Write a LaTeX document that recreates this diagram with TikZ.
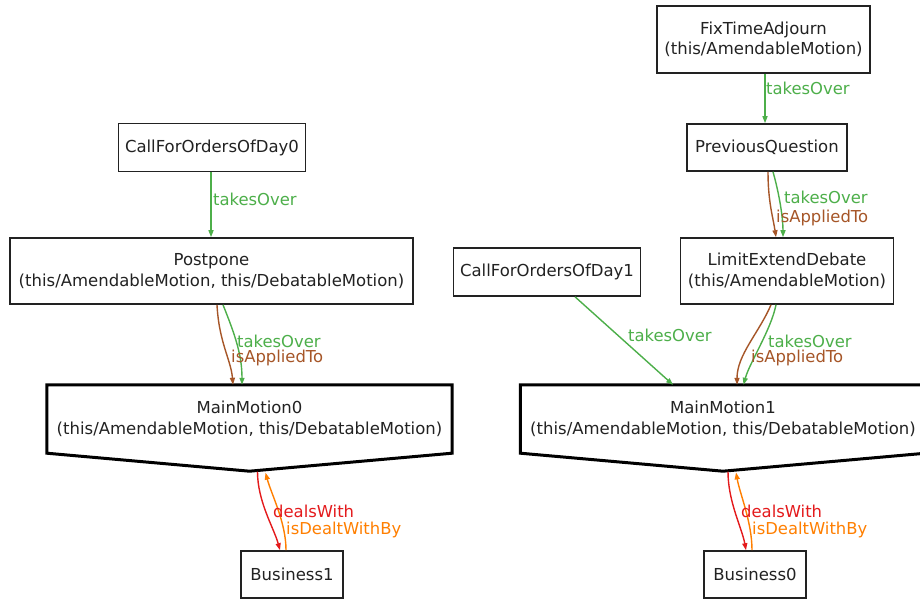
\documentclass[tikz,border=0pt]{standalone}
\usepackage{fontspec}
\setmainfont{DejaVu Sans}
\usetikzlibrary{arrows.meta,calc}
\definecolor{cGreen}{HTML}{4DAF4A}
\definecolor{cBrown}{HTML}{A65628}
\definecolor{cRed}{HTML}{E41A1C}
\definecolor{cOrange}{HTML}{FF7F00}
\definecolor{cInk}{HTML}{222222}
\tikzset{
  box/.style={draw=cInk, line width=1.6pt, rectangle, inner sep=0pt, align=center,
    text=cInk, font=\fontsize{16.5}{20.5}\selectfont},
  motion/.style={rectangle, inner sep=0pt, align=center, minimum width=405pt, minimum height=68pt,
    text=cInk, font=\fontsize{16.5}{20.5}\selectfont},
  motionline/.style={draw=black, line width=3pt, line join=miter},
  edge/.style={line width=1.4pt, -{Triangle[length=7pt,width=5pt]}},
  gEdge/.style={edge, cGreen},
  bEdge/.style={edge, cBrown},
  rEdge/.style={edge, cRed},
  oEdge/.style={edge, cOrange},
  lbl/.style={anchor=west, inner sep=0pt, font=\fontsize{16.4}{19}\selectfont},
}
\begin{document}
\begin{tikzpicture}[x=1pt,y=-1pt]
\useasboundingbox[fill=white] (0,0) rectangle (920,601);
\begin{scope}
\clip (0,0) rectangle (920,601);

% plain boxes
\node[box, minimum width=213pt, minimum height=67pt] (fta) at (763.5,39.5) {FixTimeAdjourn\\(this/AmendableMotion)};
\node[box, minimum width=160pt, minimum height=47pt] (pq) at (767,147.5) {PreviousQuestion};
\node[box, minimum width=187pt, minimum height=48pt] (cfo0) at (212,147.5) {CallForOrdersOfDay0};
\node[box, minimum width=403pt, minimum height=66pt] (pp) at (211.5,271) {Postpone\\(this/AmendableMotion, this/DebatableMotion)};
\node[box, minimum width=187pt, minimum height=48pt] (cfo1) at (547,272) {CallForOrdersOfDay1};
\node[box, minimum width=213pt, minimum height=66pt] (led) at (787,271) {LimitExtendDebate\\(this/AmendableMotion)};
\node[box, minimum width=102pt, minimum height=47pt] (bz1) at (292,574.5) {Business1};
\node[box, minimum width=102pt, minimum height=47pt] (bz0) at (755,574.5) {Business0};

% main motions: pointed pentagon outlines
\node[motion] (mm0) at (249.5,419) {MainMotion0\\(this/AmendableMotion, this/DebatableMotion)};
\coordinate (mm0tip) at ($(mm0.south)+(0,18)$);
\draw[motionline] (mm0.north west) -- (mm0.north east) -- (mm0.south east) -- (mm0tip) -- (mm0.south west) -- cycle;

\node[motion] (mm1) at (723,419) {MainMotion1\\(this/AmendableMotion, this/DebatableMotion)};
\coordinate (mm1tip) at ($(mm1.south)+(0,18)$);
\draw[motionline] (mm1.north west) -- (mm1.north east) -- (mm1.south east) -- (mm1tip) -- (mm1.south west) -- cycle;

% takesOver chain on the right
\draw[gEdge] ([xshift=1.5]fta.south) -- ([xshift=-2]pq.north);
\node[lbl, cGreen] (l1) at (766,88) {takesOver};

\draw[gEdge] ([xshift=-1]cfo0.south) -- ([xshift=-0.5]pp.north);
\node[lbl, cGreen] (l2) at (213,199) {takesOver};

\draw[bEdge] ([xshift=1]pq.south) .. controls +(0,30) and +(-3,-20) .. ([xshift=-11]led.north);
\draw[gEdge] ([xshift=6]pq.south) .. controls +(7,25) and +(0,-18) .. ([xshift=-4]led.north);
\node[lbl, cGreen] (l3) at (784,197) {takesOver};
\node[lbl, cBrown] (l4) at (776,218) {isAppliedTo};

\draw[bEdge] ([xshift=5.5]pp.south) .. controls +(2,38) and +(-2,-25) .. ([xshift=-16.5]mm0.north);
\draw[gEdge] ([xshift=11.5]pp.south) .. controls +(12,30) and +(0,-30) .. ([xshift=-7.5]mm0.north);
\node[lbl, cGreen] (l5) at (237,341) {takesOver};
\node[lbl, cBrown] (l6) at (231,358) {isAppliedTo};

\draw[bEdge] ([xshift=-16]led.south) .. controls +(-12,28) and +(0,-30) .. ([xshift=14]mm1.north);
\draw[gEdge] ([xshift=-11]led.south) .. controls +(-5,25) and +(6,-22) .. ([xshift=20.5]mm1.north);
\node[lbl, cGreen] (l7) at (768,341) {takesOver};
\node[lbl, cBrown] (l8) at (751,358) {isAppliedTo};

\draw[gEdge] ([xshift=28]cfo1.south) -- ([xshift=-50]mm1.north);
\node[lbl, cGreen] (l9) at (628,335) {takesOver};

% dealsWith / isDealtWithBy pairs
\draw[rEdge] ([xshift=8,yshift=-0.5]mm0tip) .. controls +(0,30) and +(-6,-22) .. ([xshift=-12]bz1.north);
\draw[oEdge] ([xshift=-6]bz1.north) .. controls +(0,-28) and +(6,22) .. ([xshift=16,yshift=-1.5]mm0tip);
\node[lbl, cRed] (l10) at (273,511) {dealsWith};
\node[lbl, cOrange] (l11) at (286,530) {isDealtWithBy};

\draw[rEdge] ([xshift=5,yshift=-0.5]mm1tip) .. controls +(0,30) and +(-4,-22) .. ([xshift=-9]bz0.north);
\draw[oEdge] ([xshift=-3]bz0.north) .. controls +(0,-28) and +(4,22) .. ([xshift=13,yshift=-1.2]mm1tip);
\node[lbl, cRed] (l12) at (741,511) {dealsWith};
\node[lbl, cOrange] (l13) at (752,530) {isDealtWithBy};
\end{scope}
\end{tikzpicture}
\end{document}
